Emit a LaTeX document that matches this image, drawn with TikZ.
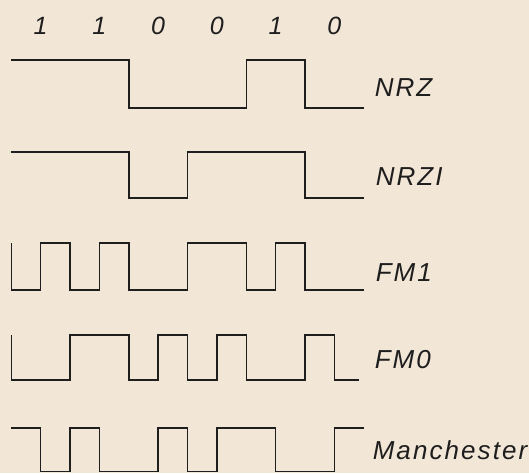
\documentclass[tikz,border=0pt]{standalone}
\usepackage{fontspec}
\newfontfamily\codefont{Liberation Sans}[LetterSpace=8]
\newfontfamily\bitfont{Liberation Sans}
\usetikzlibrary{positioning}
\definecolor{cpaper}{HTML}{F2E6D7}
\definecolor{cink}{HTML}{1E1E1E}
\tikzset{
  every picture/.style={line width=1.5pt},
  wave/.style={draw=cink, line join=miter, line cap=butt},
  codename/.style={font=\codefont\itshape\fontsize{26}{26}\selectfont, text=cink, anchor=base west, inner sep=0pt},
  bitval/.style={font=\bitfont\itshape\fontsize{25}{25}\selectfont, text=cink, anchor=base, inner sep=0pt},
}

\begin{document}
\begin{tikzpicture}[x=1pt, y=-1pt]
  % paper
  \fill[cpaper] (0,0) rectangle (529,473);
  \useasboundingbox (0,0) rectangle (529,473);
  \begin{scope}[xshift=11.25pt, x=29.375pt]
    % data bits, one per cell (two half-cells)
    \foreach \b [count=\i] in {1,1,0,0,1,0}
      \node[bitval] (bit\i) at ({2*\i-1},35) {\b};
    % NRZ
    \draw[wave] (0,60) -| (4,108) -| (8,60) -| (10,108) -- (12,108);
    % NRZI
    \draw[wave] (0,152) -| (4,198) -| (6,152) -| (10,198) -- (12,198);
    % FM1
    \draw[wave] (0,243) -- (0,290) -| (1,243) -| (2,290) -| (3,243) -| (4,290)
      -| (6,243) -| (8,290) -| (9,243) -| (10,290) -- (12,290);
    % FM0
    \draw[wave] (0,335) -- (0,380) -| (2,335) -| (4,380) -| (5,335) -| (6,380)
      -| (7,335) -| (8,380) -| (10,335) -| (11,380) -- (11.85,380);
    % Manchester
    \draw[wave] (0,428) -| (1,471.5) -| (2,428) -| (3,471.5) -| (5,428) -| (6,471.5)
      -| (7,428) -| (9,471.5) -| (11,428) -- (12,428);
  \end{scope}
  % code names
  \node[codename] (nrz) at (374,97) {NRZ};
  \node[codename] (nrzi) at (375,185) {NRZI};
  \node[codename] (fmone) at (375,281) {FM1};
  \node[codename] (fmzero) at (374,368) {FM0};
  \node[codename] (manch) at (372,459) {Manchester};
\end{tikzpicture}
\end{document}
